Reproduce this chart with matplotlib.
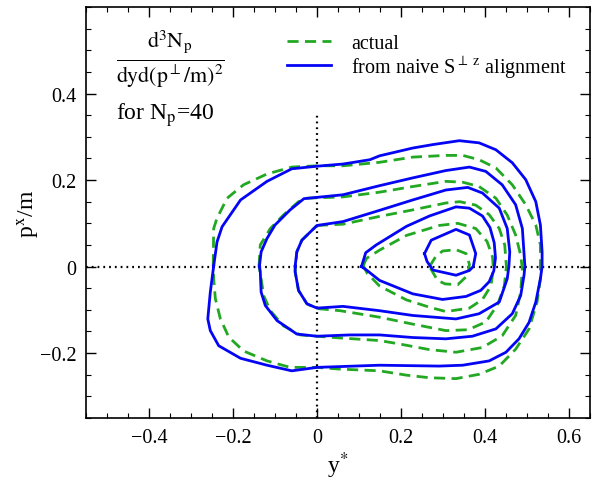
import matplotlib as mpl
mpl.use('Agg')
import matplotlib.pyplot as plt
import numpy as np
from matplotlib.ticker import MultipleLocator

mpl.rcParams['font.family'] = ['Liberation Serif', 'DejaVu Serif']
mpl.rcParams['mathtext.fontset'] = 'stix'

# contour lines, (y*, p^x/m), outer -> inner
blue1 = [(-0.246, 0.001), (-0.238, 0.057), (-0.226, 0.092), (-0.182, 0.154), (-0.119, 0.197),
         (-0.060, 0.226), (0.0, 0.232), (0.062, 0.237), (0.126, 0.247), (0.149, 0.256),
         (0.228, 0.274), (0.276, 0.282), (0.339, 0.291), (0.386, 0.286), (0.426, 0.270),
         (0.465, 0.240), (0.497, 0.201), (0.521, 0.150), (0.532, 0.096), (0.536, 0.034),
         (0.536, 0.0), (0.532, -0.028), (0.521, -0.082), (0.505, -0.129), (0.481, -0.167),
         (0.450, -0.198), (0.410, -0.218), (0.347, -0.228), (0.291, -0.230), (0.149, -0.228),
         (0.0, -0.233), (-0.060, -0.241), (-0.119, -0.228), (-0.182, -0.212), (-0.234, -0.183),
         (-0.254, -0.148), (-0.260, -0.121), (-0.254, -0.059)]
blue2 = [(-0.137, 0.001), (-0.133, 0.034), (-0.119, 0.065), (-0.100, 0.096), (-0.064, 0.131),
         (-0.031, 0.157), (0.0, 0.160), (0.062, 0.166), (0.149, 0.187), (0.228, 0.205),
         (0.307, 0.222), (0.363, 0.230), (0.402, 0.220), (0.441, 0.189), (0.473, 0.143),
         (0.489, 0.088), (0.495, 0.001), (0.493, -0.020), (0.485, -0.067), (0.465, -0.109),
         (0.426, -0.144), (0.370, -0.161), (0.307, -0.167), (0.228, -0.164), (0.149, -0.158),
         (0.078, -0.158), (0.0, -0.161), (-0.048, -0.156), (-0.095, -0.125), (-0.123, -0.090),
         (-0.133, -0.059), (-0.135, -0.012)]
blue3 = [(-0.052, 0.001), (-0.048, 0.034), (-0.036, 0.061), (0.0, 0.095), (0.062, 0.104),
         (0.149, 0.130), (0.228, 0.154), (0.307, 0.177), (0.359, 0.183), (0.394, 0.170),
         (0.434, 0.135), (0.453, 0.088), (0.459, 0.034), (0.457, 0.001), (0.453, -0.028),
         (0.434, -0.082), (0.386, -0.109), (0.331, -0.121), (0.228, -0.113), (0.149, -0.102),
         (0.062, -0.092), (0.0, -0.096), (-0.024, -0.086), (-0.044, -0.055), (-0.052, -0.012)]
blue4 = [(0.106, 0.0), (0.116, 0.032), (0.141, 0.050), (0.213, 0.093), (0.268, 0.117),
         (0.331, 0.138), (0.363, 0.135), (0.394, 0.117), (0.412, 0.090), (0.422, 0.055),
         (0.425, 0.020), (0.421, -0.010), (0.410, -0.035), (0.390, -0.055), (0.355, -0.069),
         (0.299, -0.076), (0.228, -0.063), (0.149, -0.032), (0.118, -0.008)]
blue5 = [(0.256, 0.030), (0.272, 0.061), (0.331, 0.086), (0.363, 0.073), (0.378, 0.030),
         (0.372, 0.0), (0.363, -0.009), (0.331, -0.020), (0.276, -0.008), (0.262, 0.012)]

green1 = [(-0.247, 0.003), (-0.246, 0.088), (-0.238, 0.112), (-0.214, 0.158), (-0.175, 0.189),
          (-0.119, 0.214), (-0.060, 0.230), (0.0, 0.233), (0.062, 0.233), (0.149, 0.241),
          (0.228, 0.253), (0.307, 0.257), (0.347, 0.257), (0.386, 0.247), (0.426, 0.228),
          (0.465, 0.189), (0.497, 0.143), (0.521, 0.096), (0.532, 0.050), (0.532, 0.0),
          (0.532, -0.028), (0.524, -0.082), (0.505, -0.144), (0.473, -0.191), (0.434, -0.230),
          (0.386, -0.249), (0.331, -0.259), (0.268, -0.257), (0.213, -0.251), (0.149, -0.241),
          (0.055, -0.237), (0.0, -0.233), (-0.064, -0.233), (-0.119, -0.218), (-0.175, -0.195),
          (-0.210, -0.163), (-0.230, -0.121), (-0.242, -0.074), (-0.246, -0.028)]
green2 = [(-0.138, 0.001), (-0.135, 0.050), (-0.111, 0.088), (-0.080, 0.119), (-0.044, 0.150),
          (-0.024, 0.158), (0.0, 0.159), (0.062, 0.161), (0.149, 0.172), (0.228, 0.185),
          (0.307, 0.197), (0.347, 0.195), (0.386, 0.185), (0.426, 0.158), (0.453, 0.119),
          (0.473, 0.073), (0.485, 0.026), (0.489, -0.005), (0.485, -0.059), (0.473, -0.113),
          (0.441, -0.160), (0.394, -0.187), (0.331, -0.198), (0.268, -0.192), (0.197, -0.179),
          (0.149, -0.171), (0.055, -0.165), (0.0, -0.161), (-0.040, -0.158), (-0.080, -0.137),
          (-0.111, -0.102), (-0.127, -0.067), (-0.133, -0.028)]
green3 = [(0.0, 0.095), (0.062, 0.098), (0.149, 0.116), (0.228, 0.131), (0.307, 0.147),
          (0.340, 0.150), (0.378, 0.142), (0.410, 0.120), (0.434, 0.088), (0.447, 0.050),
          (0.451, 0.0), (0.446, -0.045), (0.430, -0.088), (0.402, -0.128), (0.360, -0.146),
          (0.307, -0.148), (0.228, -0.133), (0.149, -0.117), (0.055, -0.102), (0.0, -0.097),
          (-0.024, -0.086), (-0.044, -0.055), (-0.052, -0.012), (-0.048, 0.034), (-0.036, 0.061)]
green4 = [(0.110, 0.002), (0.118, 0.019), (0.149, 0.038), (0.213, 0.072), (0.291, 0.095),
          (0.335, 0.100), (0.378, 0.088), (0.405, 0.058), (0.418, 0.022), (0.420, -0.005),
          (0.414, -0.045), (0.394, -0.076), (0.363, -0.096), (0.307, -0.104), (0.268, -0.094),
          (0.213, -0.077), (0.149, -0.045), (0.120, -0.016)]
green5 = [(0.268, 0.0), (0.282, 0.022), (0.299, 0.036), (0.331, 0.039), (0.355, 0.030),
          (0.363, 0.005), (0.359, -0.020), (0.335, -0.042), (0.305, -0.040), (0.287, -0.032)]

blue_lines = [blue1, blue2, blue3, blue4, blue5]
green_lines = [green1, green2, green3, green4, green5]

label_green = 'actual'
label_blue = r'from naive S$^{\perp\ \mathrm{z}}$ alignment'

BLUE = '#0505f5'
GREEN = '#22a822'


def closed(pts):
    a = np.array(pts + [pts[0]])
    return a[:, 0], a[:, 1]


fig = plt.figure(figsize=(6.03, 4.85), dpi=100)
ax = fig.add_axes([0.1426, 0.1361, 0.8358, 0.8474])

ax.axhline(0, color='black', lw=1.6, ls=(0, (0.8, 1.8)), zorder=1)
ax.axvline(0, ymax=0.742, color='black', lw=1.6, ls=(0, (0.8, 1.8)), zorder=1)

for i, pts in enumerate(green_lines):
    x, y = closed(pts)
    ln, = ax.plot(x, y, color=GREEN, lw=2.0, ls=(0, (4.0, 2.3)), zorder=2)
    if i == 0:
        h_green = ln
for i, pts in enumerate(blue_lines):
    x, y = closed(pts)
    ln, = ax.plot(x, y, color=BLUE, lw=2.0, zorder=3)
    if i == 0:
        h_blue = ln

ax.set_xlim(-0.55, 0.65)
ax.set_ylim(-0.35, 0.6)
ax.xaxis.set_minor_locator(MultipleLocator(0.05))
ax.yaxis.set_minor_locator(MultipleLocator(0.05))
ax.set_xticks([-0.4, -0.2, 0, 0.2, 0.4, 0.6])
ax.set_xticklabels(['\u22120.4', '\u22120.2', '0', '0.2', '0.4', '0.6'])
ax.set_yticks([-0.2, 0, 0.2, 0.4])
ax.set_yticklabels(['\u22120.2', '0', '0.2', '0.4'])
ax.tick_params(which='both', direction='in', top=True, right=True, labelsize=14.5, pad=7)
ax.tick_params(which='major', length=7, width=1)
ax.tick_params(which='minor', length=3.5, width=0.8)
for s in ax.spines.values():
    s.set_linewidth(1.2)

ax.set_xlabel(r'y$^{*}$', fontsize=17, labelpad=2)
ax.set_ylabel(r'p$^{\mathrm{x}}$/m', fontsize=17, labelpad=-2)

ax.text(-0.348, 0.482, r'$\frac{\mathrm{d^3N_p}}{\mathrm{dyd(p^{\perp}/m)^2}}$',
        fontsize=22.5, ha='center', va='center')
ax.text(-0.478, 0.353, r'for N$_{\mathrm{p}}$=40', fontsize=17, ha='left', va='center')

ax.legend([h_green, h_blue], [label_green, label_blue], loc='upper left',
          bbox_to_anchor=(0.37, 0.968), frameon=False, fontsize=14.5,
          handlelength=2.2, handletextpad=1.0, labelspacing=0.0, borderpad=0.2)

fig.savefig('out.png', dpi=100)
